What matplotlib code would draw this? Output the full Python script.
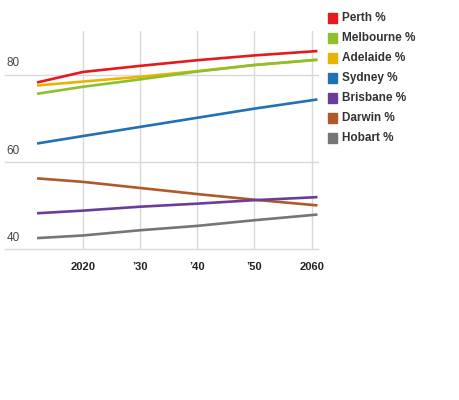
import matplotlib.pyplot as plt

plt.rcParams["font.family"] = ["Liberation Sans", "DejaVu Sans"]

years = [2012, 2020, 2030, 2040, 2050, 2061]
cities = ["Perth %", "Melbourne %", "Adelaide %", "Sydney %", "Brisbane %", "Darwin %", "Hobart %"]
colors = ["#e41a1c", "#8dc02c", "#e8b400", "#2171b5", "#6a3d9a", "#b15928", "#767676"]
perth = [78.2, 80.6, 82.0, 83.3, 84.4, 85.4]
melbourne = [75.6, 77.2, 78.9, 80.7, 82.2, 83.4]
adelaide = [77.5, 78.4, 79.5, 80.8, 82.2, 83.4]
sydney = [64.2, 65.9, 68.0, 70.1, 72.2, 74.3]
brisbane = [48.2, 48.8, 49.7, 50.4, 51.2, 51.9]
darwin = [56.2, 55.4, 54.0, 52.6, 51.3, 50.0]
hobart = [42.5, 43.1, 44.3, 45.3, 46.6, 47.9]
series = [perth, melbourne, adelaide, sydney, brisbane, darwin, hobart]

xticks = [2020, 2030, 2040, 2050, 2060]
xlabels = ["2020", "\u201930", "\u201940", "\u201950", "2060"]
yticks = [40, 60, 80]

fig = plt.figure(figsize=(4.6, 4.0), dpi=100)
ax = fig.add_axes([5 / 460, 151 / 400, 313 / 460, 218 / 400])

# draw in reverse so Perth ends up on top
for vals, c in list(zip(series, colors))[::-1]:
    ax.plot(years, vals, color=c, lw=1.9, solid_capstyle="butt")

ax.set_xlim(2006.4, 2061.1)
ax.set_ylim(40, 90)

for x in xticks:
    ax.axvline(x, color="#d9d9d9", lw=1, zorder=0)
for y in yticks:
    ax.axhline(y, color="#d9d9d9", lw=1, zorder=0, clip_on=False)
    ax.text(2006.7, y + 1.2, str(y), fontsize=8.5, color="#444444", va="bottom", ha="left")

for spine in ax.spines.values():
    spine.set_visible(False)
ax.set_yticks([])
ax.set_xticks(xticks)
ax.set_xticklabels(xlabels, fontweight="bold", fontsize=8, color="#222222")
ax.tick_params(axis="x", length=0, pad=9)

# legend on the right
for i, (name, c) in enumerate(zip(cities, colors)):
    ytop = 13 + 20 * i
    fig.patches.append(plt.Rectangle((328 / 460, 1 - (ytop + 10) / 400), 9 / 460, 10 / 400,
                                     transform=fig.transFigure, color=c, figure=fig))
    fig.text(342 / 460, 1 - (ytop + 5) / 400, name, fontsize=8.5, fontweight="bold",
             color="#333333", va="center", ha="left")

fig.savefig("out.png", dpi=100)
